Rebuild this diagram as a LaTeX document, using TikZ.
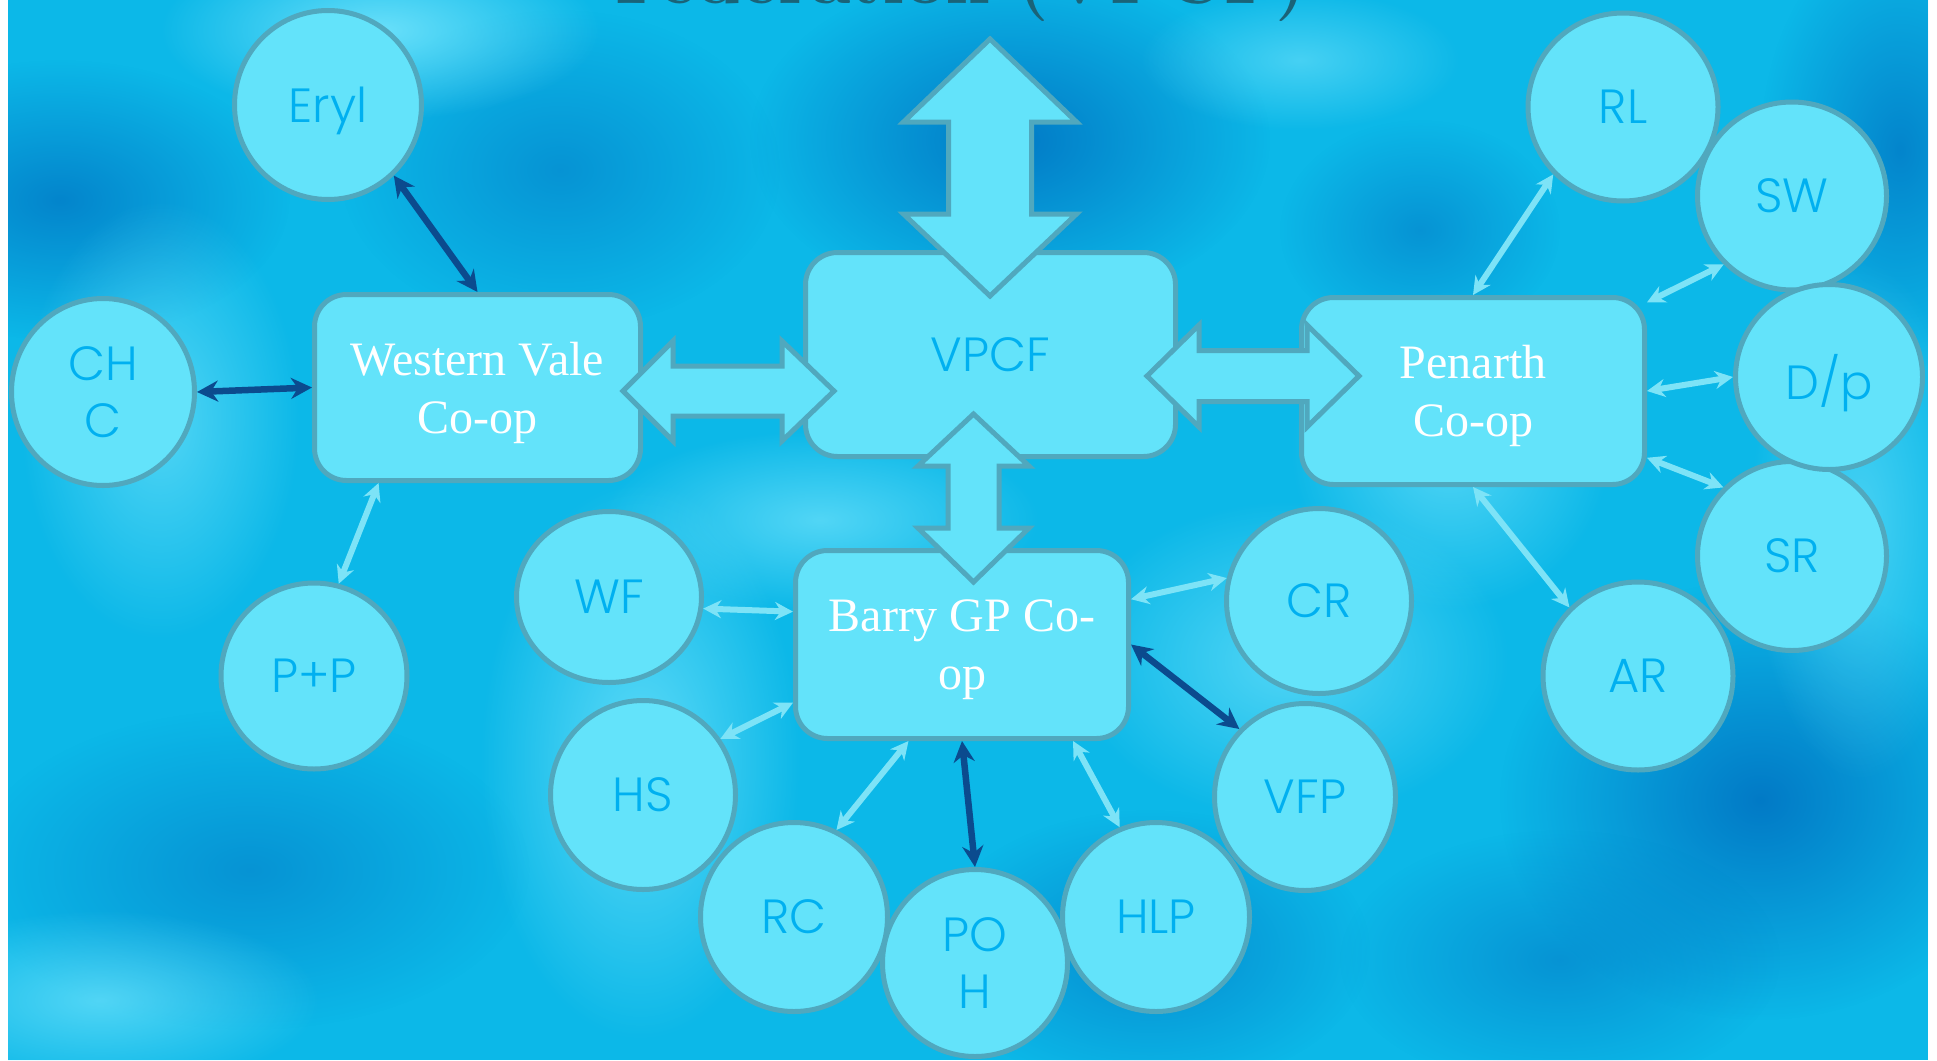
\documentclass[tikz,border=0pt]{standalone}
\usepackage{fontspec}
\newfontfamily\lbl{Poppins}[UprightFont={* Light}]
\newfontfamily\boxfont{Liberation Serif}
\usetikzlibrary{arrows.meta,fadings,shapes.geometric}
\definecolor{bgbase}{HTML}{0CB8E8}
\definecolor{bgdark}{HTML}{006FC0}
\definecolor{bglight}{HTML}{80EAFF}
\definecolor{nodefill}{HTML}{63E3FA}
\definecolor{nodeline}{HTML}{50A8BE}
\definecolor{lbltext}{HTML}{00B0F0}
\definecolor{darkarrow}{HTML}{0B4B8E}
\definecolor{lightarrow}{HTML}{7DE3F7}
\definecolor{titlecol}{HTML}{1A6378}
\tikzfading[name=fuzzy, inner color=transparent!0, outer color=transparent!100]
\begin{document}
\begin{tikzpicture}[x=1pt,y=-1pt,
  circ/.style 2 args={shape=ellipse, draw=nodeline, fill=nodefill, line width=5pt,
    inner sep=0pt, minimum width=#1pt, minimum height=#2pt, text=lbltext,
    font=\lbl\fontsize{48}{57}\selectfont, align=center, text depth=0pt},
  coop/.style 2 args={rectangle, rounded corners=32pt, draw=nodeline, fill=nodefill,
    line width=5pt, inner sep=0pt, minimum width=#1pt, minimum height=#2pt,
    text=white, font=\boxfont\fontsize{48}{58}\selectfont, align=center, text depth=0pt},
  bigarrow/.style={draw=nodeline, fill=nodefill, line width=5pt, line join=miter},
  darklink/.style={draw=darkarrow, line width=6.5pt,
    {Stealth[length=21pt,width=21pt]}-{Stealth[length=21pt,width=21pt]}},
  lightlink/.style={draw=lightarrow, line width=6pt,
    {Stealth[length=18pt,width=18pt]}-{Stealth[length=18pt,width=18pt]}},
  blob/.style={path fading=fuzzy}
]
\useasboundingbox (0,0) rectangle (1937,1060);
% background
\begin{scope}
\clip (8,0) rectangle (1928,1060);
\fill[bgbase] (8,0) rectangle (1928,1060);
\fill[bgdark, blob, fill opacity=0.85] (1010,140) ellipse [x radius=260pt, y radius=170pt];
\fill[bgdark, blob, fill opacity=0.7] (60,200) ellipse [x radius=230pt, y radius=140pt];
\fill[bgdark, blob, fill opacity=0.7] (1900,150) ellipse [x radius=140pt, y radius=220pt];
\fill[bgdark, blob, fill opacity=0.85] (1760,800) ellipse [x radius=260pt, y radius=220pt];
\fill[bgdark, blob, fill opacity=0.6] (1150,950) ellipse [x radius=220pt, y radius=140pt];
\fill[bgdark, blob, fill opacity=0.5] (250,870) ellipse [x radius=280pt, y radius=160pt];
\fill[bgdark, blob, fill opacity=0.5] (560,170) ellipse [x radius=220pt, y radius=160pt];
\fill[bgdark, blob, fill opacity=0.5] (1420,230) ellipse [x radius=140pt, y radius=110pt];
\fill[bgdark, blob, fill opacity=0.5] (1560,960) ellipse [x radius=220pt, y radius=130pt];
\fill[bglight, blob, fill opacity=0.8] (380,30) ellipse [x radius=220pt, y radius=90pt];
\fill[bglight, blob, fill opacity=0.6] (160,420) ellipse [x radius=140pt, y radius=220pt];
\fill[bglight, blob, fill opacity=0.7] (640,760) ellipse [x radius=160pt, y radius=280pt];
\fill[bglight, blob, fill opacity=0.6] (1290,660) ellipse [x radius=220pt, y radius=160pt];
\fill[bglight, blob, fill opacity=0.6] (1450,450) ellipse [x radius=160pt, y radius=160pt];
\fill[bglight, blob, fill opacity=0.6] (100,1000) ellipse [x radius=220pt, y radius=90pt];
\fill[bglight, blob, fill opacity=0.6] (820,520) ellipse [x radius=220pt, y radius=90pt];
\fill[bglight, blob, fill opacity=0.5] (1860,520) ellipse [x radius=110pt, y radius=260pt];
\fill[bglight, blob, fill opacity=0.5] (1300,60) ellipse [x radius=160pt, y radius=70pt];
% title, mostly above the page
\node[anchor=base, text=titlecol, font=\bfseries\fontsize{72}{72}\selectfont] (title) at (961,3) {Federation (VPCF)};
\end{scope}

% co-op boxes
\node[coop={326}{186}] (wv) at (477.5,387.5) {Western Vale\\Co-op};
\node[coop={370}{204}, text=lbltext, font=\lbl\fontsize{48}{57}\selectfont] (vpcf) at (990.5,354.5) {VPCF};
\node[coop={333}{188}] (barry) at (962,644.5) {Barry GP Co-\\op};
\node[coop={343}{187}] (penarth) at (1473,391) {Penarth\\Co-op};

% big double arrows
\draw[bigarrow] (990,39) -- (1076.5,122) -- (1031.5,122) -- (1031.5,214) -- (1076.5,214)
  -- (990,296) -- (903.5,214) -- (948.5,214) -- (948.5,122) -- (903.5,122) -- cycle;
\draw[bigarrow] (623,391) -- (673,341) -- (673,366) -- (782,366) -- (782,341)
  -- (834,391) -- (782,441) -- (782,416) -- (673,416) -- (673,441) -- cycle;
\draw[bigarrow] (1147,376) -- (1199,325) -- (1199,350.5) -- (1307,350.5) -- (1307,325)
  -- (1359,376) -- (1307,427) -- (1307,401.5) -- (1199,401.5) -- (1199,427) -- cycle;
\draw[bigarrow] (973.5,414) -- (1029,466) -- (999,466) -- (999,528) -- (1029,528)
  -- (973.5,582) -- (918,528) -- (948,528) -- (948,466) -- (918,466) -- cycle;

% satellites
\node[circ={187}{189}] (eryl) at (328,105) {Eryl};
\node[circ={183}{187}] (chc) at (103,392) {CH\\C};
\node[circ={186}{186}] (pp) at (314,676) {P+P};

\node[circ={185}{185}] (cr) at (1319,601) {CR};
\node[circ={181}{187}] (vfp) at (1305,797) {VFP};
\node[circ={185}{171}] (wf) at (609,597) {WF};
\node[circ={185}{189}] (hs) at (643,795) {HS};
\node[circ={187}{189}] (rc) at (794,917) {RC};
\node[circ={185}{187}] (poh) at (975,963) {PO\\H};
\node[circ={187}{189}] (hlp) at (1156,917) {HLP};

\node[circ={190}{188}] (rl) at (1623,107) {RL};
\node[circ={189}{188}] (sw) at (1792,196) {SW};
\node[circ={189}{189}] (sr) at (1792,556) {SR};
\node[circ={187}{185}] (dp) at (1829,377) {D/p};
\node[circ={190}{188}] (ar) at (1638,676) {AR};

% connectors
\draw[darklink] (eryl.-47) -- (wv.north);
\draw[darklink] (chc.east) -- (wv.west);
\draw[lightlink] (pp.75) -- (wv.-136);

\draw[lightlink] (wf.-7) -- (barry.169);
\draw[lightlink] (hs.36) -- (barry.-161);
\draw[lightlink] (rc.64) -- (barry.-119);
\draw[darklink] (poh.north) -- (barry.south);
\draw[lightlink] (hlp.112) -- (barry.-41);
\draw[darklink] (vfp.134) -- (barry.east);
\draw[lightlink] (cr.166) -- (barry.15);

\draw[lightlink] (rl.-136) -- (penarth.north);
\draw[lightlink] (sw.-135) -- (penarth.27);
\draw[lightlink] (dp.west) -- (penarth.east);
\draw[lightlink] (sr.135) -- (penarth.-21);
\draw[lightlink] (ar.135) -- (penarth.south);
\end{tikzpicture}
\end{document}
